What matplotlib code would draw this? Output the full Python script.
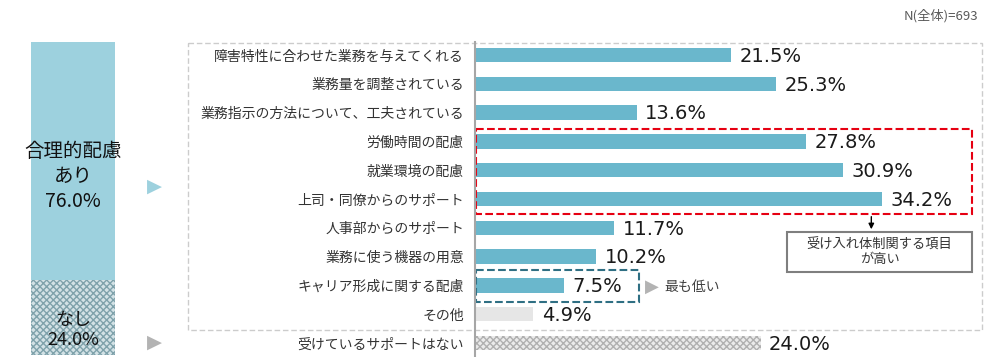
import matplotlib.pyplot as plt
from matplotlib.patches import Rectangle

plt.rcParams['font.family'] = ['Noto Sans CJK JP', 'DejaVu Sans']

#---    Data
categories = ['障害特性に合わせた業務を与えてくれる', '業務量を調整されている',
              '業務指示の方法について、工夫されている', '労働時間の配慮', '就業環境の配慮',
              '上司・同僚からのサポート', '人事部からのサポート', '業務に使う機器の用意',
              'キャリア形成に関する配慮', 'その他', '受けているサポートはない']
values = [21.5, 25.3, 13.6, 27.8, 30.9, 34.2, 11.7, 10.2, 7.5, 4.9, 24.0]
share_labels = ['合理的配慮\nあり\n76.0%', 'なし\n24.0%']
share_values = [76.0, 24.0]
n_note = 'N(全体)=693'

bar_color = '#6ab7cc'
other_color = '#e6e6e6'

fig = plt.figure(figsize=(10, 3.57), dpi=100)

#---    Main horizontal bars
ax = fig.add_axes([0.475, 0, 0.507, 315 / 357])
rows = list(range(len(categories)))
for i, v in enumerate(values):
    if i == len(values) - 1:
        ax.barh(i, v, height=0.5, color='#ebebeb', edgecolor='#b0b0b0', hatch='xxxxx', linewidth=0)
    elif i == len(values) - 2:
        ax.barh(i, v, height=0.5, color=other_color, linewidth=0)
    else:
        ax.barh(i, v, height=0.5, color=bar_color, linewidth=0)
    ax.text(v + 0.7, i + 0.05, f'{v:.1f}%', va='center', ha='left', fontsize=14,
            family='DejaVu Sans', color='#1a1a1a')

ax.set_xlim(0, 42.6)
ax.set_ylim(10.49, -0.45)
ax.set_yticks(rows)
ax.set_yticklabels(categories, fontsize=10, color='#333333')
ax.tick_params(axis='y', length=0, pad=8)
ax.set_xticks([])
for s in ['top', 'right', 'bottom']:
    ax.spines[s].set_visible(False)
ax.spines['left'].set_color('#a6a6a6')
ax.spines['left'].set_linewidth(1.5)
ax.patch.set_alpha(0)

# outer dashed frame
ax.add_patch(Rectangle((-24.1, -0.42), 66.7, 9.97, fill=False, edgecolor='#cccccc',
                       linestyle=(0, (4, 2)), linewidth=1, clip_on=False))
# red highlight
ax.add_patch(Rectangle((0.08, 2.57), 41.7, 2.95, fill=False, edgecolor='#e60012',
                       linestyle='--', linewidth=1.5, clip_on=False))
ax.annotate('', xy=(33.3, 6.15), xytext=(33.3, 5.52),
            arrowprops=dict(arrowstyle='-|>', color='black', lw=1, mutation_scale=8))
ax.add_patch(Rectangle((26.2, 6.15), 15.6, 1.38, facecolor='white', edgecolor='#7f7f7f',
                       linewidth=1.5, clip_on=False))
ax.text(34.0, 6.84, '受け入れ体制関する項目\nが高い', ha='center', va='center',
        fontsize=9.5, color='#333333', linespacing=1.15)
# teal highlight
ax.add_patch(Rectangle((0.08, 7.47), 13.7, 1.11, fill=False, edgecolor='#2f6f83',
                       linestyle='--', linewidth=1.5, clip_on=False))
ax.text(14.9, 8.05, '▶', ha='center', va='center', fontsize=13, color='#b3b3b3',
        family='DejaVu Sans')
ax.text(15.9, 8.05, '最も低い', ha='left', va='center', fontsize=10, color='#404040')

#---    Left stacked bar
ax2 = fig.add_axes([0.031, 2 / 357, 0.084, 313 / 357])
ax2.bar(0, share_values[0], width=1, bottom=0, color='#9dd1de', linewidth=0)
ax2.bar(0, share_values[1], width=1, bottom=share_values[0], color='#d3e2e6',
        edgecolor='#7fa2ab', hatch='xxxxx', linewidth=0)
ax2.set_xlim(-0.5, 0.5)
ax2.set_ylim(100, 0)
ax2.axis('off')
ax2.text(0, 43, share_labels[0], ha='center', va='center', fontsize=14,
         linespacing=1.25, color='#111111')
ax2.text(0, 92, share_labels[1], ha='center', va='center', fontsize=13,
         linespacing=1.2, color='#111111')

fig.text(0.154, 1 - 186 / 357, '▶', ha='center', va='center', fontsize=14,
         color='#9dd1de', family='DejaVu Sans')
fig.text(0.154, 1 - 342 / 357, '▶', ha='center', va='center', fontsize=14,
         color='#b3b3b3', family='DejaVu Sans')

fig.text(0.978, 1 - 16 / 357, n_note, ha='right', va='center', fontsize=9.5, color='#595959')

plt.savefig('out.png', dpi=100)
